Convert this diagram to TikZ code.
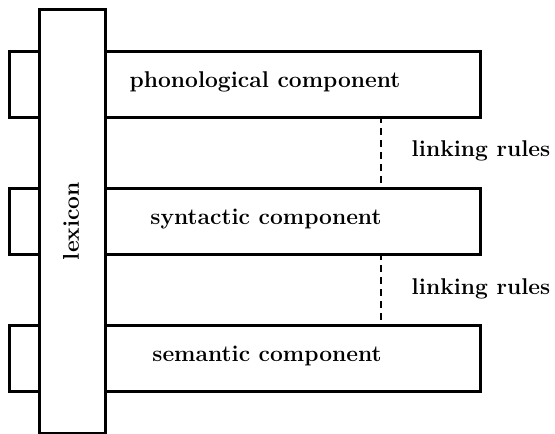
\documentclass[tikz,border=0pt]{standalone}
\begin{document}
\begin{tikzpicture}[x=0.75pt,y=-0.75pt,
  bar/.style={draw=black,line width=2.2pt,fill=white},
  lbl/.style={font=\fontsize{17.1}{20}\selectfont\bfseries},
  link/.style={draw=black,line width=2pt,dash pattern=on 5.5pt off 3.5pt}]
\useasboundingbox (0,0) rectangle (555,433);
% component bars (drawn first, the lexicon covers them)
\node[bar,minimum width=471*0.75pt,minimum height=66*0.75pt,anchor=north west,inner sep=0pt] (phon) at (8,50) {};
\node[bar,minimum width=471*0.75pt,minimum height=66*0.75pt,anchor=north west,inner sep=0pt] (syn) at (8,187) {};
\node[bar,minimum width=471*0.75pt,minimum height=66*0.75pt,anchor=north west,inner sep=0pt] (sem) at (8,324) {};
% lexicon
\node[bar,minimum width=66*0.75pt,minimum height=424*0.75pt,anchor=north west,inner sep=0pt] (lex) at (38,8) {};
\node[lbl,rotate=90] (lextext) at (71,221) {lexicon};
% labels
\node[lbl] (phontext) at (265,82) {phonological component};
\node[lbl] (syntext) at (266,219) {syntactic component};
\node[lbl] (semtext) at (267,356) {semantic component};
% linking rules
\coordinate (l1a) at (381,116);
\coordinate (l1b) at (381,187);
\coordinate (l2a) at (381,253);
\coordinate (l2b) at (381,324);
\draw[link] (l1a) -- (l1b);
\draw[link] (l2a) -- (l2b);
\node[lbl] (link1) at (481,151) {linking rules};
\node[lbl] (link2) at (481,289) {linking rules};
\end{tikzpicture}
\end{document}
